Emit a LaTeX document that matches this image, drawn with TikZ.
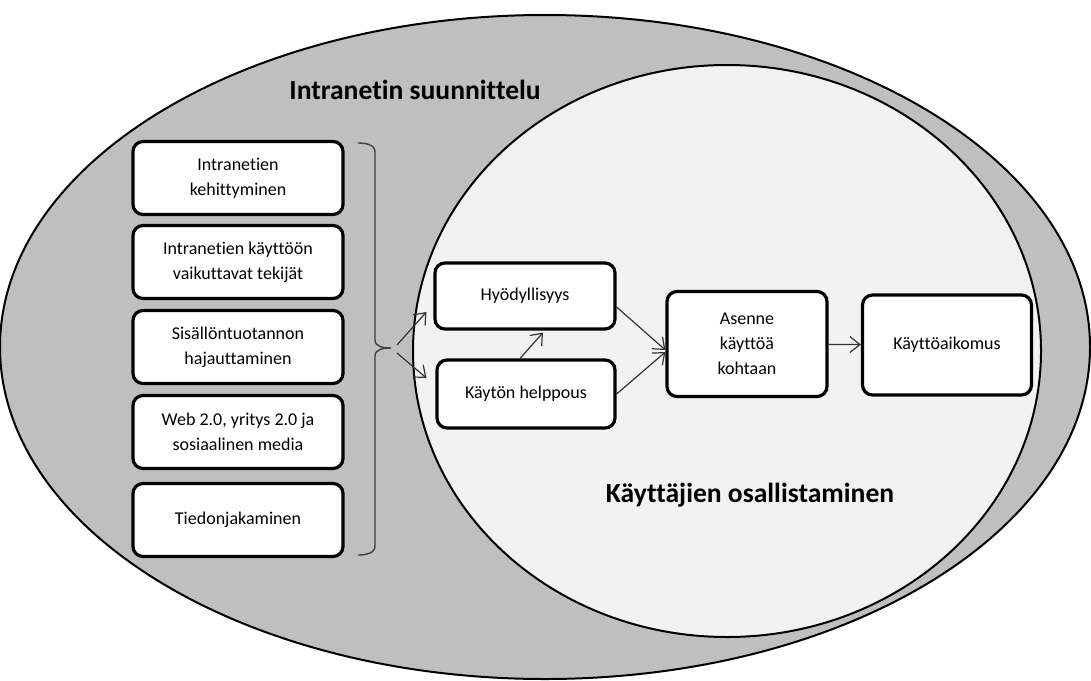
\documentclass[tikz,border=0pt]{standalone}
\usepackage{fontspec}
\setmainfont{Carlito}[Ligatures=NoCommon]
\usetikzlibrary{arrows.meta}
\definecolor{outergray}{HTML}{BFBFBF}
\definecolor{innergray}{HTML}{F2F2F2}
\begin{document}
\begin{tikzpicture}[x=0.5pt,y=-0.5pt,>={Straight Barb[length=5pt,width=8pt]},
  box/.style={draw,line width=1.6pt,rounded corners=5pt,fill=white,align=center,
    font=\fontsize{9}{12.5}\selectfont},
  link/.style={->,line width=0.6pt,black!80},
  title/.style={font=\bfseries\fontsize{13.8}{16}\selectfont}]
\useasboundingbox (0,0) rectangle (1091,680);
\draw[line width=1pt,fill=outergray] (545,347) ellipse [x radius=545,y radius=332];
\draw[line width=1pt,fill=innergray] (727,351) ellipse [x radius=314,y radius=286];
\node[title] (suunn) at (415,90) {Intranetin suunnittelu};
\node[title] (osall) at (750,495) {Käyttäjien osallistaminen};
% vasen sarake
\foreach \n/\y/\t in {1/178/{Intranetien\\kehittyminen},
  2/262/{Intranetien käyttöön\\vaikuttavat tekijät},
  3/347/{Sisällöntuotannon\\hajauttaminen},
  4/432/{Web 2.0, yritys 2.0 ja\\sosiaalinen media},
  5/520/{Tiedonjakaminen}}
\node[box,minimum width=105pt,minimum height=36.5pt] (b\n) at (238,\y) {\t};
% sulje
\draw[line width=0.7pt,black!75] (358,143) to[out=0,in=90] (375,152) -- (375,340)
  to[out=-90,in=180] (391,348) to[out=180,in=90] (375,356) -- (375,546)
  to[out=-90,in=0] (358,555);
\coordinate (fork) at (397,349);
% malli
\node[box,minimum width=90pt,minimum height=33pt] (hyod) at (525,296) {Hyödyllisyys};
\node[box,minimum width=89pt,minimum height=34pt] (help) at (526,394) {Käytön helppous};
\node[box,minimum width=80pt,minimum height=52.5pt] (asen) at (747,344) {Asenne\\käyttöä\\kohtaan};
\node[box,minimum width=84.5pt,minimum height=50pt] (aiko) at (947,345) {Käyttöaikomus};
\draw[link] ([yshift=2pt]fork) -- ([xshift=-3.5pt,yshift=-8pt]hyod.west);
\draw[link] ([yshift=-2pt]fork) -- ([xshift=-4.5pt,yshift=8pt]help.west);
\draw[link] ([xshift=-3pt]help.north) -- ([xshift=9pt,yshift=-1pt]hyod.south);
\draw[link] ([yshift=-5.5pt]hyod.east) -- ([yshift=-3pt]asen.west);
\draw[link] (help.east) -- ([yshift=-4pt]asen.west);
\draw[link] (asen) -- (aiko);
\end{tikzpicture}
\end{document}
